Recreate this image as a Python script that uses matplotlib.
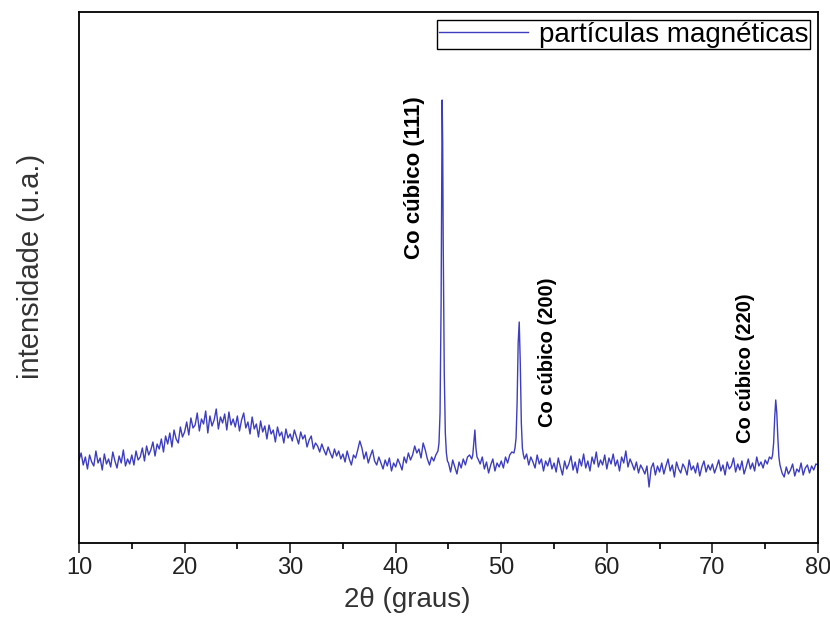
import numpy as np
import matplotlib
matplotlib.use("Agg")
import matplotlib.pyplot as plt
from matplotlib.ticker import MultipleLocator

# difratograma (intensidade em unidades arbitrárias)
passo = 0.2
angulo_inicial = 10.0
fundo = [
    83, 90, 78, 86, 74, 88, 81, 77, 92, 80, 85, 73, 89, 79, 84, 76, 91, 82, 75, 87, 80, 93, 77, 84, 79,
    88, 78, 92, 83, 86, 95, 82, 97, 88, 93, 101, 87, 99, 94, 104, 91, 107, 99, 110, 96, 113, 104, 100, 116, 106,
    111, 121, 108, 125, 115, 118, 130, 112, 124, 119, 132, 110, 127, 117, 123, 134, 114, 126, 120, 129, 113, 131, 118, 124, 116,
    127, 112, 123, 130, 115, 121, 109, 126, 114, 119, 106, 122, 111, 117, 104, 118, 109, 113, 101, 116, 107, 111, 100, 114, 105,
    109, 102, 113, 106, 99, 111, 104, 108, 96, 103, 107, 94, 100, 97, 91, 99, 93, 88, 96, 90, 85, 94, 87, 92, 84,
    89, 81, 92, 84, 78, 88, 85, 93, 102, 95, 84, 91, 80, 87, 93, 82, 78, 86, 80, 74, 83, 77, 85, 72, 80,
    76, 84, 79, 73, 86, 80, 90, 83, 88, 97, 90, 94, 85, 100, 93, 84, 78, 86, 82, 88, 90, 88, 86, 84, 82,
    80, 71, 83, 76, 69, 81, 75, 84, 78, 86, 88, 84, 100, 95, 84, 79, 86, 74, 81, 70, 78, 84, 72, 80, 76,
    82, 75, 86, 80, 88, 91, 90, 90, 90, 90, 90, 84, 89, 78, 86, 81, 75, 88, 79, 84, 72, 82, 77, 85, 74,
    80, 71, 85, 76, 68, 82, 74, 79, 87, 73, 81, 70, 84, 77, 89, 75, 82, 72, 86, 79, 91, 76, 83, 78, 88,
    74, 85, 79, 89, 77, 83, 72, 86, 80, 92, 76, 84, 79, 73, 81, 70, 78, 74, 69, 77, 56, 75, 80, 68, 77,
    71, 80, 69, 77, 84, 72, 78, 66, 81, 74, 70, 79, 75, 68, 83, 73, 77, 70, 80, 67, 76, 82, 71, 78, 73,
    79, 70, 76, 83, 72, 78, 68, 81, 74, 77, 85, 71, 79, 73, 82, 69, 76, 84, 74, 80, 72, 86, 77, 81, 75,
    83, 79, 86, 84, 84, 84, 84, 78, 70, 66, 76, 69, 73, 79, 67, 74, 71, 80, 68, 75, 78, 70, 77, 73, 79,
    78,
]

# picos (amostragem mais fina)
pico_111_x = [44.0, 44.1, 44.2, 44.3, 44.35, 44.4, 44.45, 44.5, 44.6, 44.7, 44.8, 44.9]
pico_111_y = [92, 100, 130, 240, 350, 443, 400, 300, 170, 110, 90, 82]
pico_47_x = [47.2, 47.3, 47.4, 47.5, 47.6, 47.7]
pico_47_y = [84, 88, 100, 113, 95, 86]
pico_200_x = [51.2, 51.3, 51.4, 51.5, 51.6, 51.7, 51.8, 51.9, 52.0, 52.1, 52.2]
pico_200_y = [90, 95, 105, 140, 200, 221, 180, 120, 95, 88, 84]
pico_220_x = [75.6, 75.7, 75.8, 75.9, 76.0, 76.1, 76.2, 76.3, 76.4, 76.5]
pico_220_y = [84, 88, 100, 125, 143, 130, 105, 86, 78, 74]

rotulos = ["Co cúbico (111)", "Co cúbico (200)", "Co cúbico (220)"]
rotulos_x = [41.8, 54.4, 73.1]
rotulos_y = [365, 191, 175]
rotulos_tam = [16, 14.5, 14.5]

x = np.round(angulo_inicial + passo * np.arange(len(fundo)), 3)
y = np.array(fundo, dtype=float)
picos = [(pico_111_x, pico_111_y), (pico_47_x, pico_47_y),
         (pico_200_x, pico_200_y), (pico_220_x, pico_220_y)]
for px, py in picos:
    manter = (x < min(px)) | (x > max(px))
    x = np.concatenate([x[manter], px])
    y = np.concatenate([y[manter], py])
ordem = np.argsort(x)
x, y = x[ordem], y[ordem]

plt.rcParams['font.family'] = ['Liberation Sans', 'DejaVu Sans']

fig = plt.figure(figsize=(8.3, 6.19), dpi=100)
ax = fig.add_axes([0.0952, 0.1228, 0.8903, 0.8578])
ax.plot(x, y, color='#3d3dbf', lw=1.0, label='partículas magnéticas')

ax.set_xlim(10, 80)
ax.set_ylim(0, 531)
ax.xaxis.set_major_locator(MultipleLocator(10))
ax.xaxis.set_minor_locator(MultipleLocator(5))
ax.set_yticks([])
ax.tick_params(axis='x', which='major', direction='out', length=7, width=1.2,
               labelsize=17, colors='#222222', pad=3)
ax.tick_params(axis='x', which='minor', direction='out', length=4, width=1.2)
for s in ax.spines.values():
    s.set_linewidth(1.3)

ax.set_xlabel('2θ (graus)', fontsize=20, color='#333333')
ax.xaxis.set_label_coords(0.444, -0.083)
ax.set_ylabel('intensidade (u.a.)', fontsize=21, color='#333333')
ax.yaxis.set_label_coords(-0.046, 0.52)

for t, tx, ty, fs in zip(rotulos, rotulos_x, rotulos_y, rotulos_tam):
    ax.text(tx, ty, t, rotation=90, ha='center', va='center',
            fontsize=fs, fontweight='bold', color='black')

leg = ax.legend(loc='upper right', fontsize=20, handlelength=3.2, fancybox=False,
                edgecolor='black', framealpha=1, borderpad=0.05, handletextpad=0.4,
                borderaxespad=0.3)
leg.get_frame().set_linewidth(1.0)

fig.savefig('out.png', dpi=100)
